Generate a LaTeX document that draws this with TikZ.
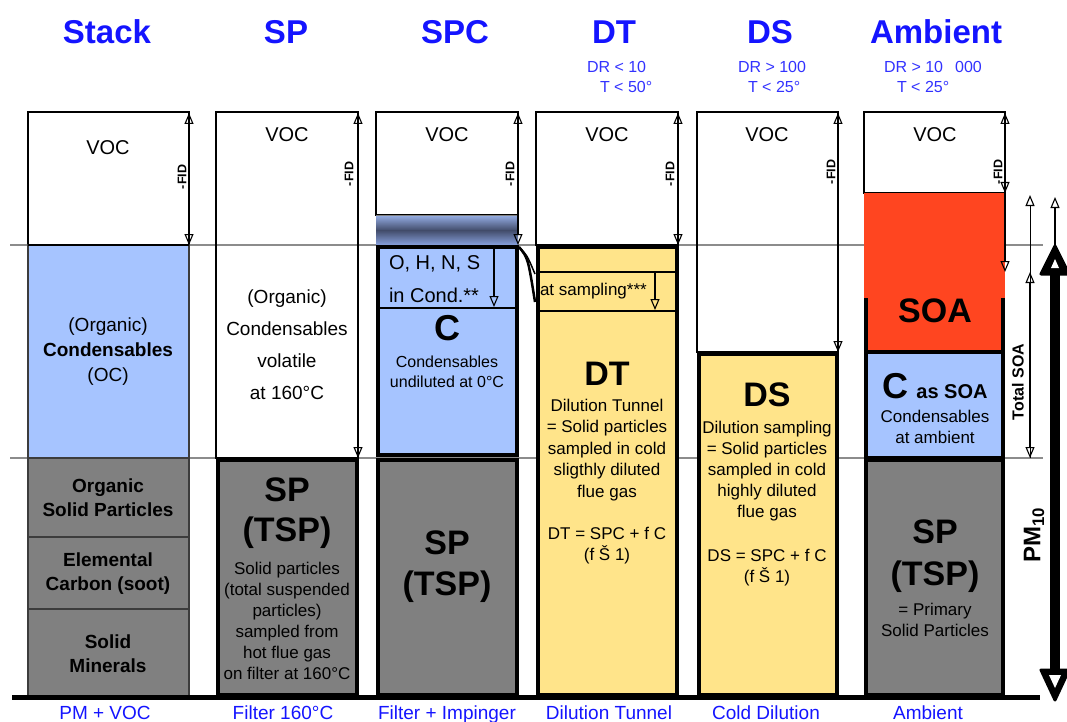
\documentclass[tikz,border=0pt]{standalone}
\usepackage{fontspec}
\setmainfont{Liberation Sans}
\usetikzlibrary{arrows.meta}
\definecolor{hdrblue}{RGB}{20,20,255}
\definecolor{subblue}{RGB}{50,50,255}
\definecolor{cblue}{RGB}{166,196,255}
\definecolor{cgray}{RGB}{128,128,128}
\definecolor{cyel}{RGB}{255,228,138}
\definecolor{cred}{RGB}{255,69,32}
\definecolor{gline}{RGB}{140,140,140}
\definecolor{bordgray}{RGB}{60,60,60}
\definecolor{gtop}{RGB}{150,175,230}
\definecolor{gmid}{RGB}{65,75,105}
\definecolor{gbot}{RGB}{135,160,220}
\newcommand\myfs[2]{\fontsize{#1}{#2}\selectfont}
\begin{document}
\begin{tikzpicture}[x=1pt,y=-1pt,
  every node/.style={inner sep=0pt,outer sep=0pt},
  hdr/.style={text=hdrblue,font=\myfs{33}{36}\bfseries},
  subhdr/.style={text=subblue,font=\myfs{16}{20},anchor=west},
  foot/.style={text=hdrblue,font=\myfs{19}{20},anchor=base},
  voc/.style={font=\myfs{20}{24}},
  fid/.style={font=\myfs{12.5}{14}\bfseries,rotate=90},
  big/.style={font=\myfs{34}{41}\bfseries,align=center},
  med/.style={font=\myfs{19}{24}\bfseries,align=center},
  small/.style={font=\myfs{17}{21},align=center},
  thinbox/.style={draw=black,line width=1.3pt},
  stackbox/.style={draw=bordgray,line width=1.2pt},
  thickbox/.style={draw=black,line width=4pt},
  tip/.tip={Triangle[open,length=11pt,width=9pt,line width=1.1pt]},
  dim/.style={line width=1.2pt,tip-tip},
  dimd/.style={line width=1.2pt,-tip},
  headfill/.style={fill=black,draw=black,line width=3pt,line join=round},
]
\useasboundingbox (0,0) rectangle (1067,722);
\clip (0,0) rectangle (1067,722);

% ---------- reference lines (under the boxes) ----------
\draw[gline,line width=2pt] (10,245) -- (1043,245);
\draw[gline,line width=2pt] (10,458) -- (1043,458);

% ---------- headers ----------
\node[hdr] (hStack) at (107,32) {Stack};
\node[hdr] (hSP) at (286,32) {SP};
\node[hdr] (hSPC) at (455,32) {SPC};
\node[hdr] (hDT) at (614,32) {DT};
\node[hdr] (hDS) at (770,32) {DS};
\node[hdr] (hAmb) at (936,32) {Ambient};
\node[subhdr] (dt1) at (587,67) {DR < 10};
\node[subhdr] (dt2) at (600,87) {T < 50°};
\node[subhdr] (ds1) at (738,67) {DR > 100};
\node[subhdr] (ds2) at (748,87) {T < 25°};
\node[subhdr] (am1) at (884,67) {DR > 10\hspace{12pt}000};
\node[subhdr] (am2) at (897,87) {T < 25°};

% ---------- Stack column ----------
\draw[thinbox] (28,112) rectangle (189,245);
\fill[cblue] (28,245) rectangle (189,458);
\draw[stackbox] (28,245) rectangle (189,458);
\fill[cgray] (28,458) rectangle (189,697);
\draw[stackbox] (28,458) rectangle (189,537);
\draw[stackbox] (28,537) rectangle (189,609);
\draw[stackbox] (28,609) rectangle (189,697);
\draw[line width=2pt] (28,245) -- (189,245);

% ---------- SP column ----------
\draw[thinbox] (216,112) rectangle (358,458);
\filldraw[fill=cgray,thickbox] (218,460) rectangle (357,695);

% ---------- SPC column ----------
\draw[thinbox] (376,112) rectangle (518,215);
\shade[top color=gtop,bottom color=gmid] (376,215) rectangle (518,230.5);
\shade[top color=gmid,bottom color=gbot] (376,230) rectangle (518,245);
\draw[line width=0.6pt,gray] (376,215) -- (518,215);
\filldraw[fill=cblue,thickbox] (378,247) rectangle (517,455);
\draw[line width=2.5pt] (378,308) -- (517,308);
\filldraw[fill=cgray,thickbox] (378,460) rectangle (517,695);

% ---------- DT column ----------
\draw[thinbox] (536,112) rectangle (678,245);
\filldraw[fill=cyel,thickbox] (538,247) rectangle (677,695);
\draw[line width=1.8pt] (538,272) -- (677,272);
\draw[line width=1.8pt] (538,311) -- (677,311);
\draw[line width=2.5pt] (519,247) .. controls (528,258) .. (535,302);
\draw[line width=1.5pt] (519,247) .. controls (527,255) .. (535,274);

% ---------- DS column ----------
\draw[thinbox] (697,112) rectangle (838,352);
\filldraw[fill=cyel,thickbox] (699,354) rectangle (837,695);

% ---------- Ambient column ----------
\draw[thinbox] (864,112) rectangle (1005,193);
\fill[cred] (864,193) rectangle (1005,350);
\draw[line width=4pt] (866,298) -- (866,350);
\draw[line width=4pt] (1003,298) -- (1003,350);
\filldraw[fill=cblue,thickbox] (866,352) rectangle (1003,458);
\filldraw[fill=cgray,thickbox] (866,460) rectangle (1003,695);

% ---------- base line ----------
\draw[line width=5pt] (12,697) -- (1040,697);

% ---------- dimension arrows ----------
\coordinate (a1t) at (189,113); \coordinate (a1b) at (189,245);
\coordinate (a2t) at (358,113); \coordinate (a2b) at (358,458);
\coordinate (a3t) at (518,113); \coordinate (a3b) at (518,245);
\coordinate (a4t) at (678,113); \coordinate (a4b) at (678,245);
\coordinate (a5t) at (838,113); \coordinate (a5b) at (838,352);
\coordinate (a6t) at (1005,113); \coordinate (a6b) at (1005,193);
\coordinate (a6c) at (1005,272);
\draw[dim] (a1b) -- (a1t);
\draw[dim] (a2b) -- (a2t);
\draw[dim] (a3b) -- (a3t);
\draw[dim] (a4b) -- (a4t);
\draw[dim] (a5b) -- (a5t);
\draw[dim] (a6b) -- (a6t);
\draw[dimd] (a6b) -- (a6c);
\coordinate (c1t) at (494,249); \coordinate (c1b) at (494,307);
\draw[dimd] (c1t) -- (c1b);
\coordinate (c2t) at (655,273); \coordinate (c2b) at (655,310);
\draw[dimd] (c2t) -- (c2b);

% total SOA
\coordinate (ts0) at (1030,195);
\coordinate (ts1) at (1030,272);
\coordinate (ts2) at (1030,458);
\draw[dimd,line width=0.8pt] (ts2) -- (ts0);
\draw[dim] (ts2) -- (ts1);
\node[font=\myfs{16}{18}\bfseries,rotate=90] (tsoa) at (1018,382) {Total SOA};

% PM10
\coordinate (pm0) at (1055,197);
\coordinate (pm1) at (1055,250);
\coordinate (pmA) at (1055,272);
\coordinate (pmB) at (1055,672);
\draw[dimd,line width=2pt] (pm1) -- (pm0);
\draw[line width=10pt] (pmA) -- (pmB);
\filldraw[headfill] (1055,246) -- (1069,274) -- (1041,274) -- cycle;
\fill[white] (1055,259) -- (1059,268) -- (1051,268) -- cycle;
\filldraw[headfill] (1055,700) -- (1069,670) -- (1041,670) -- cycle;
\fill[white] (1055,688) -- (1061,675) -- (1049,675) -- cycle;
\node[font=\myfs{24}{26}\bfseries,rotate=90] (pm) at (1034,535) {PM\textsubscript{10}};

% ---------- texts ----------
\node[voc] (v1) at (108,148) {VOC};
\node[voc] (v2) at (287,135) {VOC};
\node[voc] (v3) at (447,135) {VOC};
\node[voc] (v4) at (607,135) {VOC};
\node[voc] (v5) at (767,135) {VOC};
\node[voc] (v6) at (935,135) {VOC};
\node[fid] (f1) at (182,177) {-FID};
\node[fid] (f2) at (349,174) {-FID};
\node[fid] (f3) at (510,174) {-FID};
\node[fid] (f4) at (670,174) {-FID};
\node[fid] (f5) at (831,172) {-FID};
\node[fid] (f6) at (998,172) {-FID};

% Stack
\node[font=\myfs{19}{25},align=center] (oc) at (108,352) {(Organic)\\\textbf{Condensables}\\(OC)};
\node[med] (osp) at (108,498) {Organic\\Solid Particles};
\node[med] (ec) at (108,574) {Elemental\\Carbon (soot)};
\node[med] (sm) at (108,654) {Solid\\Minerals};

% SP
\node[font=\myfs{19}{32},align=center] (spoc) at (287,345) {(Organic)\\Condensables\\volatile\\at 160°C};
\node[big,font=\myfs{34}{40}\bfseries] (sp1) at (287,513) {SP\\(TSP)};
\node[small] (sp2) at (287,621) {Solid particles\\(total suspended\\particles)\\sampled from\\hot flue gas\\on filter at 160°C};

% SPC
\node[font=\myfs{20}{33},align=left,anchor=west] (ohns) at (389,279) {O, H, N, S\\in Cond.**};
\node[font=\myfs{36}{40}\bfseries] (cc) at (447,328) {C};
\node[font=\myfs{16}{20},align=center] (cund) at (447,372) {Condensables\\undiluted at 0°C};
\node[big] (spc) at (447,567) {SP\\(TSP)};

% DT
\node[font=\myfs{17}{20},anchor=west] (atsamp) at (540,291) {at sampling***};
\node[big] (dtt) at (607,374) {DT};
\node[small,font=\myfs{17}{21.5}] (dtx) at (607,450) {Dilution Tunnel\\= Solid particles\\sampled in cold\\sligthly diluted\\flue gas};
\node[small] (dteq) at (607,546) {DT = SPC + f C\\(f Š 1)};

% DS
\node[big] (dss) at (767,395) {DS};
\node[small] (dsx) at (767,471) {Dilution sampling\\= Solid particles\\sampled in cold\\highly diluted\\flue gas};
\node[small] (dseq) at (767,568) {DS = SPC + f C\\(f Š 1)};

% Ambient
\node[big] (soa) at (935,311) {SOA};
\node[font=\bfseries] (csoa) at (935,386) {\myfs{36}{40}C\hspace{8pt}\myfs{20}{24}as SOA};
\node[small] (cam) at (935,427) {Condensables\\at ambient};
\node[big,font=\myfs{34}{42}\bfseries] (spa) at (935,556) {SP\\(TSP)};
\node[small] (prim) at (935,620) {= Primary\\Solid Particles};

% ---------- footer ----------
\node[foot] (ft1) at (105,719) {PM + VOC};
\node[foot] (ft2) at (283,719) {Filter 160°C};
\node[foot] (ft3) at (447,719) {Filter + Impinger};
\node[foot] (ft4) at (609,719) {Dilution Tunnel};
\node[foot] (ft5) at (766,719) {Cold Dilution};
\node[foot] (ft6) at (928,719) {Ambient};
\end{tikzpicture}
\end{document}
